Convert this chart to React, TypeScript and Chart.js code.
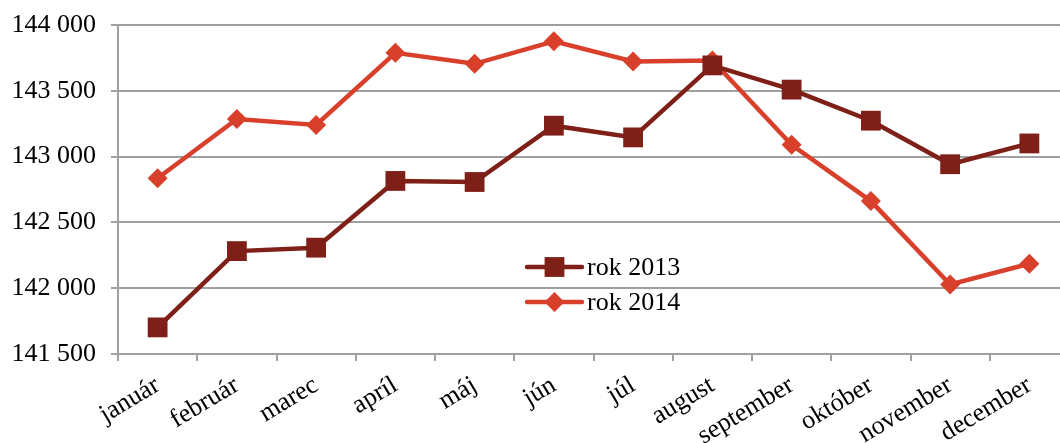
import React, { useEffect, useRef } from "react";
import { Chart, registerables } from "chart.js";

Chart.register(...registerables);

const months = ["január", "február", "marec", "apríl", "máj", "jún", "júl", "august", "september", "október", "november", "december"];
const rok2013 = [141702, 142282, 142308, 142815, 142807, 143235, 143146, 143693, 143509, 143273, 142942, 143100];
const rok2014 = [142836, 143286, 143240, 143789, 143705, 143876, 143723, 143731, 143090, 142662, 142028, 142186];
const seriesNames = ["rok 2013", "rok 2014"];
const yTicks = [141500, 142000, 142500, 143000, 143500, 144000];

const C2013 = "#7e1f18";
const C2014 = "#d9402b";
const GRID = "#a0a0a0";
const FONT = "'Liberation Serif', 'Times New Roman', serif";
const FS = 26;

const fmt = (v: number) => {
  const s = String(Math.round(v));
  return s.replace(/\B(?=(\d{3})+(?!\d))/g, " ");
};

const legendPlugin = {
  id: "customLegend",
  afterDraw(chart: any) {
    const ctx = chart.ctx;
    const items = chart.data.datasets;
    const x0 = 527;
    const ys = [267, 302];
    ctx.save();
    items.forEach((ds: any, i: number) => {
      const y = ys[i];
      ctx.strokeStyle = ds.borderColor;
      ctx.lineWidth = ds.borderWidth;
      ctx.lineCap = "round";
      ctx.beginPath();
      ctx.moveTo(x0, y);
      ctx.lineTo(x0 + 55, y);
      ctx.stroke();
      ctx.fillStyle = ds.pointBackgroundColor;
      ctx.beginPath();
      if (ds.pointStyle === "rect") {
        const s = ds.pointRadius * Math.SQRT1_2;
        ctx.rect(x0 + 27.5 - s, y - s, 2 * s, 2 * s);
      } else {
        const r = ds.pointRadius;
        const cx = x0 + 27.5;
        ctx.moveTo(cx, y - r);
        ctx.lineTo(cx + r, y);
        ctx.lineTo(cx, y + r);
        ctx.lineTo(cx - r, y);
        ctx.closePath();
      }
      ctx.fill();
      ctx.fillStyle = "#000";
      ctx.font = `${FS}px ${FONT}`;
      ctx.textBaseline = "middle";
      ctx.textAlign = "left";
      ctx.fillText(seriesNames[i], x0 + 60, y + 1);
    });
    ctx.restore();
  },
};

const W = 1083;

export default function App() {
  const ref = useRef<HTMLCanvasElement>(null);
  useEffect(() => {
    document.body.style.margin = "0";
    document.body.style.overflow = "hidden";
    const chart = new Chart(ref.current!, {
      type: "line",
      data: {
        labels: months,
        datasets: [
          {
            label: seriesNames[0],
            data: rok2013,
            borderColor: C2013,
            backgroundColor: C2013,
            pointBackgroundColor: C2013,
            pointBorderColor: C2013,
            borderWidth: 4.5,
            pointStyle: "rect",
            pointRadius: 14,
            pointBorderWidth: 0,
            tension: 0,
          } as any,
          {
            label: seriesNames[1],
            data: rok2014,
            borderColor: C2014,
            backgroundColor: C2014,
            pointBackgroundColor: C2014,
            pointBorderColor: C2014,
            borderWidth: 4.5,
            pointStyle: "rectRot",
            pointRadius: 10,
            pointBorderWidth: 0,
            tension: 0,
          } as any,
        ],
      },
      options: {
        responsive: false,
        animation: false,
        layout: { padding: { top: 25, right: 2, left: 0, bottom: 0 } },
        plugins: { legend: { display: false }, tooltip: { enabled: false } },
        scales: {
          x: {
            type: "category",
            offset: true,
            grid: {
              display: true,
              offset: true,
              drawOnChartArea: false,
              drawTicks: true,
              tickLength: 7,
              color: GRID,
              lineWidth: 2,
            },
            border: { display: true, color: GRID, width: 2 },
            ticks: {
              color: "#000",
              font: { family: FONT, size: FS },
              minRotation: 31,
              maxRotation: 31,
              autoSkip: false,
              padding: 9,
            },
            afterFit: (s: any) => {
              s.height = 89;
              s.paddingLeft = 0;
              s.paddingRight = 0;
              s.paddingTop = 0;
              s.paddingBottom = 0;
            },
          },
          y: {
            min: 141500,
            max: 144000,
            afterBuildTicks: (s: any) => {
              s.ticks = yTicks.map((v) => ({ value: v }));
            },
            grid: {
              color: GRID,
              lineWidth: 2,
              drawTicks: true,
              tickLength: 7,
            },
            border: { display: true, color: GRID, width: 2 },
            ticks: {
              color: "#000",
              font: { family: FONT, size: FS },
              padding: 15,
              callback: (v: any) => fmt(Number(v)),
            },
            afterFit: (s: any) => {
              s.width = 118;
              s.paddingTop = 0;
              s.paddingBottom = 0;
              s.paddingLeft = 0;
              s.paddingRight = 0;
            },
          },
        },
      },
      plugins: [legendPlugin],
    });
    return () => chart.destroy();
  }, []);
  return (
    <div style={{ width: W, height: 443, overflow: "hidden", background: "#fff" }}>
      <canvas ref={ref} width={W} height={443} style={{ display: "block" }} />
    </div>
  );
}
